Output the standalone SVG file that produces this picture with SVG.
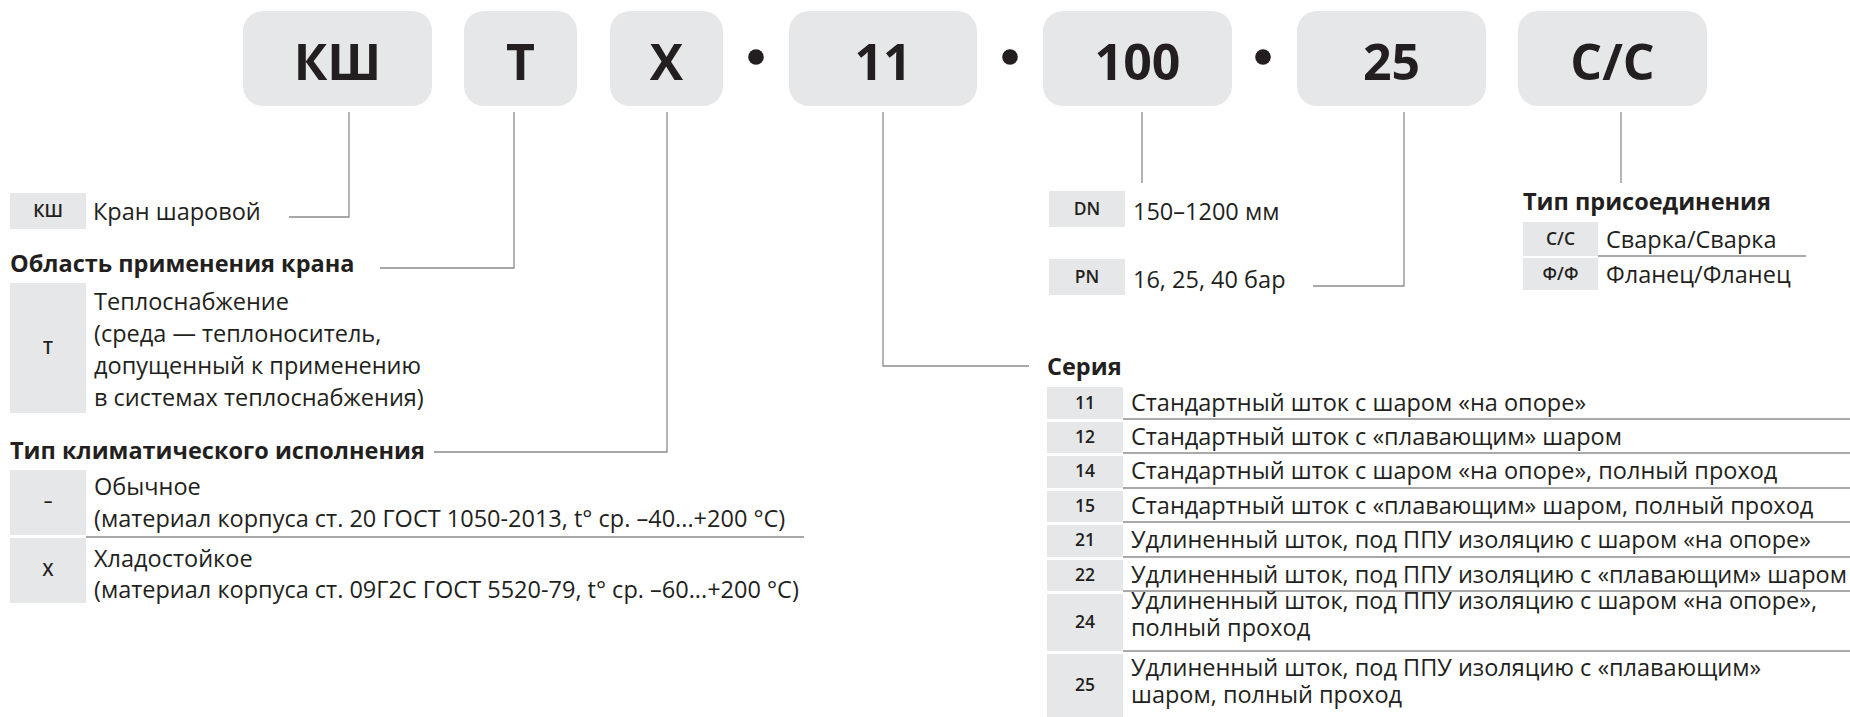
<svg xmlns="http://www.w3.org/2000/svg" width="1850" height="717" viewBox="0 0 1850 717">
<style>
.bg{fill:#ffffff}
.big{fill:#e6e7e8}
.tag{fill:#e6e7e8}
.code{font-family:"Open Sans","Liberation Sans",sans-serif;font-weight:700;font-size:50px;fill:#231f20;text-anchor:middle}
.lbl{font-family:"Open Sans","Liberation Sans",sans-serif;font-weight:600;font-size:17.5px;fill:#231f20;text-anchor:middle}
.txt{font-family:"Open Sans","Liberation Sans",sans-serif;font-size:23.5px;fill:#231f20}
.hd{font-family:"Open Sans","Liberation Sans",sans-serif;font-weight:700;font-size:23.5px;fill:#231f20}
.ln{stroke:#8c8c8c;stroke-width:1.3;fill:none}
.dot{fill:#231f20}
</style>
<rect class="bg" x="0" y="0" width="1850" height="717"/>

<g id="code-row">
<g id="box-ksh"><rect class="big" x="243" y="11" width="189" height="95" rx="20"/><text class="code" x="337.5" y="80">КШ</text></g>
<g id="box-t"><rect class="big" x="464" y="11" width="113" height="95" rx="20"/><text class="code" x="520.5" y="80">Т</text></g>
<g id="box-x"><rect class="big" x="610" y="11" width="113" height="95" rx="20"/><text class="code" x="666.5" y="80">Х</text></g>
<circle class="dot" cx="756" cy="57" r="7.8"/>
<g id="box-11"><rect class="big" x="789" y="11" width="188" height="95" rx="20"/><text class="code" x="883" y="80">11</text></g>
<circle class="dot" cx="1010" cy="57" r="7.8"/>
<g id="box-100"><rect class="big" x="1043" y="11" width="189" height="95" rx="20"/><text class="code" x="1137.5" y="80">100</text></g>
<circle class="dot" cx="1263" cy="57" r="7.8"/>
<g id="box-25"><rect class="big" x="1297" y="11" width="189" height="95" rx="20"/><text class="code" x="1391.5" y="80">25</text></g>
<g id="box-cc"><rect class="big" x="1518" y="11" width="189" height="95" rx="20"/><text class="code" x="1612.5" y="80">С/С</text></g>
</g>

<g id="connectors">
<polyline class="ln" points="349,112 349,217 289,217"/>
<polyline class="ln" points="514,112 514,268 380,268"/>
<polyline class="ln" points="667,112 667,452 434,452"/>
<polyline class="ln" points="883,112 883,366 1029,366"/>
<polyline class="ln" points="1142,112 1142,183"/>
<polyline class="ln" points="1404,112 1404,286 1313,286"/>
<polyline class="ln" points="1621,112 1621,183"/>
</g>

<g id="legend-ksh">
<rect class="tag" x="10" y="193" width="76" height="36"/>
<text class="lbl" x="48" y="217">КШ</text>
<text class="txt" x="93" y="220">Кран шаровой</text>
</g>

<g id="legend-area">
<text class="hd" x="10" y="272">Область применения крана</text>
<rect class="tag" x="10" y="283" width="76" height="130"/>
<text class="lbl" x="48" y="354">Т</text>
<text class="txt" x="94" y="310">Теплоснабжение</text>
<text class="txt" x="94" y="342">(среда — теплоноситель,</text>
<text class="txt" x="94" y="374">допущенный к применению</text>
<text class="txt" x="94" y="406">в системах теплоснабжения)</text>
</g>

<g id="legend-climate">
<text class="hd" x="10" y="459">Тип климатического исполнения</text>
<rect class="tag" x="10" y="470" width="76" height="65"/>
<text class="lbl" x="48" y="507">–</text>
<text class="txt" x="94" y="495">Обычное</text>
<text class="txt" x="94" y="527">(материал корпуса ст. 20 ГОСТ 1050-2013, t° ср. –40...+200 °C)</text>
<line class="ln" x1="86" y1="537" x2="804" y2="537"/>
<rect class="tag" x="10" y="538" width="76" height="65"/>
<text class="lbl" x="48" y="576">Х</text>
<text class="txt" x="94" y="567">Хладостойкое</text>
<text class="txt" x="94" y="598">(материал корпуса ст. 09Г2С ГОСТ 5520-79, t° ср. –60...+200 °C)</text>
</g>

<g id="legend-dn">
<rect class="tag" x="1049" y="191" width="76" height="36"/>
<text class="lbl" x="1087" y="215">DN</text>
<text class="txt" x="1133" y="220">150–1200 мм</text>
</g>

<g id="legend-pn">
<rect class="tag" x="1049" y="259" width="76" height="36"/>
<text class="lbl" x="1087" y="283">PN</text>
<text class="txt" x="1133" y="288">16, 25, 40 бар</text>
</g>

<g id="legend-connection">
<text class="hd" x="1523" y="210">Тип присоединения</text>
<rect class="tag" x="1523" y="222" width="75" height="34"/>
<text class="lbl" x="1560.5" y="245">С/С</text>
<text class="txt" x="1606" y="248">Сварка/Сварка</text>
<line class="ln" x1="1598" y1="256" x2="1806" y2="256"/>
<rect class="tag" x="1523" y="258" width="75" height="32"/>
<text class="lbl" x="1560.5" y="280">Ф/Ф</text>
<text class="txt" x="1606" y="283">Фланец/Фланец</text>
</g>

<g id="legend-series">
<text class="hd" x="1047" y="375">Серия</text>
<rect class="tag" x="1047" y="387" width="76" height="32"/>
<text class="lbl" x="1085" y="409">11</text>
<text class="txt" x="1131" y="411">Стандартный шток с шаром «на опоре»</text>
<line class="ln" x1="1123" y1="419" x2="1850" y2="419"/>
<rect class="tag" x="1047" y="422" width="76" height="31"/>
<text class="lbl" x="1085" y="443">12</text>
<text class="txt" x="1131" y="445">Стандартный шток с «плавающим» шаром</text>
<line class="ln" x1="1123" y1="453" x2="1850" y2="453"/>
<rect class="tag" x="1047" y="456" width="76" height="32"/>
<text class="lbl" x="1085" y="477">14</text>
<text class="txt" x="1131" y="479">Стандартный шток с шаром «на опоре», полный проход</text>
<line class="ln" x1="1123" y1="488" x2="1850" y2="488"/>
<rect class="tag" x="1047" y="491" width="76" height="31"/>
<text class="lbl" x="1085" y="512">15</text>
<text class="txt" x="1131" y="514">Стандартный шток с «плавающим» шаром, полный проход</text>
<line class="ln" x1="1123" y1="522" x2="1850" y2="522"/>
<rect class="tag" x="1047" y="525" width="76" height="32"/>
<text class="lbl" x="1085" y="546">21</text>
<text class="txt" x="1131" y="548">Удлиненный шток, под ППУ изоляцию с шаром «на опоре»</text>
<line class="ln" x1="1123" y1="557" x2="1850" y2="557"/>
<rect class="tag" x="1047" y="560" width="76" height="31"/>
<text class="lbl" x="1085" y="581">22</text>
<text class="txt" x="1131" y="583">Удлиненный шток, под ППУ изоляцию с «плавающим» шаром</text>
<line class="ln" x1="1123" y1="591" x2="1850" y2="591"/>
<rect class="tag" x="1047" y="594" width="76" height="57"/>
<text class="lbl" x="1085" y="628">24</text>
<text class="txt" x="1131" y="609">Удлиненный шток, под ППУ изоляцию с шаром «на опоре»,</text>
<text class="txt" x="1131" y="636">полный проход</text>
<line class="ln" x1="1123" y1="651" x2="1850" y2="651"/>
<rect class="tag" x="1047" y="654" width="76" height="63"/>
<text class="lbl" x="1085" y="691">25</text>
<text class="txt" x="1131" y="676">Удлиненный шток, под ППУ изоляцию с «плавающим»</text>
<text class="txt" x="1131" y="703">шаром, полный проход</text>
</g>
</svg>
